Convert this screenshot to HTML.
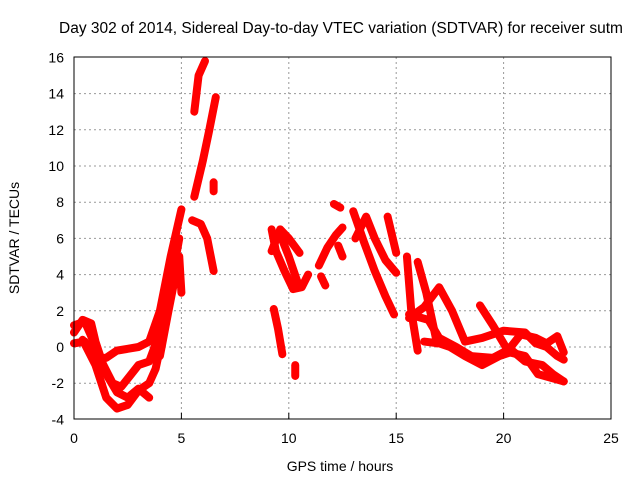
<!DOCTYPE html>
<html><head><meta charset="utf-8"><style>
body{margin:0;background:#fff}
svg{display:block;font-family:"Liberation Sans",sans-serif}
</style></head><body>
<svg id="c" width="640" height="480">
<rect width="640" height="480" fill="#fff"/>
<text x="341" y="33" font-size="15.5" text-anchor="middle">Day 302 of 2014, Sidereal Day-to-day VTEC variation (SDTVAR) for receiver sutm</text>
<text x="19" y="238" font-size="14" text-anchor="middle" transform="rotate(-90 19 238)">SDTVAR / TECUs</text>
<text x="340" y="471" font-size="14" text-anchor="middle">GPS time / hours</text>
<g id="grid"></g><g id="marks"></g>
<rect x="74" y="57" width="537" height="362" fill="none" stroke="#000"/>
</svg>
<script>
const xTicks=[0,5,10,15,20,25];
const yTicks=[-4,-2,0,2,4,6,8,10,12,14,16];
const trackA1=[[0,0.8],[0.4,1.5],[0.8,1.3],[1.0,0.3],[1.5,-1.5],[2.0,-2.5],[2.5,-2.8],[3.0,-2.3],[3.5,-2.8]];
const trackA2=[[0,1.2],[0.5,1.4],[0.8,0.6],[1.2,-0.6],[1.8,-2.0],[2.2,-2.2],[2.6,-1.6],[3.0,-1.0],[3.5,-0.8],[4.0,0.8],[4.3,2.5],[4.6,5.0]];
const trackA3=[[0,0.2],[0.5,0.3],[1.0,-0.6],[1.5,-0.6],[2.0,-0.2],[2.5,-0.1],[3.0,0],[3.5,0.3],[4.0,2],[4.5,5],[5,7.6]];
const trackA4=[[0.4,0.4],[1,-1],[1.5,-2.8],[2,-3.4],[2.5,-3.2],[3,-2.4],[3.5,-2],[3.8,-1.2],[4.2,1],[4.6,4],[4.9,6]];
const trackA5=[[4.0,-0.5],[4.4,2],[4.9,5],[5,3]];
const trackU1=[[5.6,8.3],[6.0,10.3],[6.3,12],[6.6,13.8]];
const trackU2=[[5.6,13],[5.8,15],[6.1,15.8]];
const trackU3=[[5.5,7.0],[5.9,6.8],[6.2,6],[6.5,4.2]];
const trackU4=[[6.5,9.1],[6.5,8.6]];
const trackM1=[[9.3,2.1],[9.5,1.0],[9.7,-0.4]];
const trackM2=[[10.3,-1.0],[10.3,-1.6]];
const trackM3=[[9.2,5.3],[9.6,6.5],[10,6],[10.5,5.2]];
const trackM4=[[9.2,6.5],[9.4,5.3],[9.8,4.2],[10.2,3.2],[10.6,3.3],[10.9,4.0]];
const trackM5=[[9.6,6.2],[10,5],[10.4,3.6]];
const trackM6=[[11.4,4.5],[11.8,5.5],[12.2,6.2],[12.5,6.6]];
const trackM7=[[12.1,7.9],[12.4,7.7]];
const trackM8=[[11.5,3.9],[11.7,3.4]];
const trackM9=[[12.3,5.6],[12.5,5.0]];
const trackD1=[[13.0,7.5],[13.5,5.8],[14,4.2],[14.5,2.8],[14.9,1.8]];
const trackD2=[[13.1,6.0],[13.6,7.2],[14,6],[14.5,4.8],[15,4.1]];
const trackD3=[[14.6,7.2],[15,5.2]];
const trackD4=[[15.5,5],[15.7,2],[16.0,-0.2]];
const trackD5=[[16.0,4.7],[16.4,3],[16.9,0.2]];
const trackR1=[[15.6,1.6],[16.3,2.2],[17,3.3],[17.6,2],[18.2,0.3],[19,0.5],[20,0.9],[21,0.8],[21.5,0.2],[22,0],[22.5,-0.5],[22.8,-0.7]];
const trackR2=[[15.6,1.8],[16.5,1.5],[17,0.5],[17.8,0],[18.5,-0.5],[19.5,-0.6],[20.3,-0.1],[21,-0.8],[21.8,-1.0],[22.3,-1.5],[22.8,-1.9]];
const trackR3=[[16.3,0.3],[17,0.2],[17.5,0],[18.2,-0.5],[19,-1.0],[19.8,-0.5],[20.3,-0.3],[21,-0.5],[21.6,-1.5],[22.2,-1.7],[22.8,-1.9]];
const trackR4=[[18.9,2.3],[19.5,1.2],[20.2,-0.2],[20.8,0.7],[21.5,0.5],[22,0.2],[22.5,0.6],[22.8,-0.3]];
const tracks=[trackA1,trackA2,trackA3,trackA4,trackA5,trackU1,trackU2,trackU3,trackU4,trackM1,trackM2,trackM3,trackM4,trackM5,trackM6,trackM7,trackM8,trackM9,trackD1,trackD2,trackD3,trackD4,trackD5,trackR1,trackR2,trackR3,trackR4];
const NS="http://www.w3.org/2000/svg";
const X=v=>74+v*537/25, Y=v=>347-v*18.1;
const grid=document.getElementById('grid'), marks=document.getElementById('marks');
function mk(t,a,p){const e=document.createElementNS(NS,t);for(const k in a)e.setAttribute(k,a[k]);p.appendChild(e);return e;}
xTicks.forEach(t=>{
  if(t>0&&t<25){const l=mk('line',{x1:X(t),x2:X(t),y1:57,y2:419,stroke:'#999','stroke-dasharray':'2,3'},grid);
  
  }
  const tx=mk('text',{x:X(t),y:443,'font-size':14,'text-anchor':'middle'},grid);tx.textContent=t;
  
  
  mk('line',{x1:X(t),x2:X(t),y1:419,y2:413,stroke:'#000'},grid);
});
yTicks.forEach(t=>{
  if(t>-4&&t<16){const l=mk('line',{x1:74,x2:611,y1:Y(t),y2:Y(t),stroke:'#999','stroke-dasharray':'2,3'},grid);
  
  }
  const tx=mk('text',{x:64,y:Y(t)+5,'font-size':14,'text-anchor':'end'},grid);tx.textContent=t;
  
  
});
tracks.forEach(tr=>{
  const p=mk('polyline',{points:tr.map(d=>X(d[0])+','+Y(d[1])).join(' '),fill:'none',stroke:'#f00','stroke-width':8,'stroke-linejoin':'round','stroke-linecap':'round'},marks);
  
  
});
</script>
</body></html>
